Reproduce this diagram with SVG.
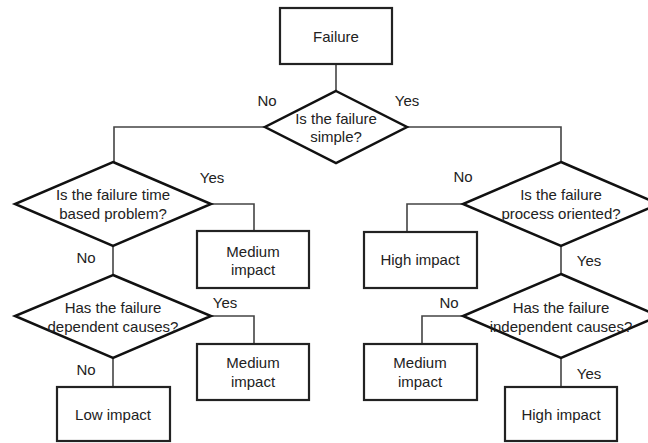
<svg xmlns="http://www.w3.org/2000/svg" width="648" height="443" viewBox="0 0 648 443">
<style>
.box{fill:#fff;stroke:#222;stroke-width:2.2}
.dia{fill:#fff;stroke:#111;stroke-width:2.5}
.con{fill:none;stroke:#444;stroke-width:1.6}
text{font-family:"Liberation Sans",Arial,sans-serif;font-size:15px;fill:#222;text-anchor:middle}
</style>
<rect width="648" height="443" fill="#fff"/>
<g id="connectors">
<path class="con" d="M336,64V91"/>
<path class="con" d="M267,127H114V162"/>
<path class="con" d="M407,127H561V162"/>
<path class="con" d="M211,204H254V231"/>
<path class="con" d="M113,246V275"/>
<path class="con" d="M211,316H254V344"/>
<path class="con" d="M113,358V387"/>
<path class="con" d="M463,204H407V232"/>
<path class="con" d="M561,246V274"/>
<path class="con" d="M463,316H422V344"/>
<path class="con" d="M561,358V387"/>
</g>
<g id="labels">
<text x="267" y="106">No</text>
<text x="407" y="106">Yes</text>
<text x="212" y="183">Yes</text>
<text x="86" y="263">No</text>
<text x="225" y="308">Yes</text>
<text x="86" y="375">No</text>
<text x="463" y="182">No</text>
<text x="589" y="266">Yes</text>
<text x="449" y="308">No</text>
<text x="589" y="379">Yes</text>
</g>
<g id="failure">
<rect class="box" x="280" y="8" width="112" height="56"/>
<text x="336" y="42">Failure</text>
</g>
<g id="d-simple">
<polygon class="dia" points="336,91 407,127 336,163 265,127"/>
<text x="336" y="124">Is the failure</text>
<text x="336" y="142">simple?</text>
</g>
<g id="d-time">
<polygon class="dia" points="113,162 211,204 113,246 15,204"/>
<text x="113" y="200">Is the failure time</text>
<text x="113" y="219">based problem?</text>
</g>
<g id="medium1">
<rect class="box" x="197" y="231" width="112" height="57"/>
<text x="253" y="257">Medium</text>
<text x="253" y="275">impact</text>
</g>
<g id="d-dependent">
<polygon class="dia" points="113,275 211,316 113,358 15,316"/>
<text x="113" y="313">Has the failure</text>
<text x="113" y="332">dependent causes?</text>
</g>
<g id="medium2">
<rect class="box" x="197" y="344" width="112" height="56"/>
<text x="253" y="368">Medium</text>
<text x="253" y="387">impact</text>
</g>
<g id="low">
<rect class="box" x="57" y="387" width="113" height="54"/>
<text x="113" y="420">Low impact</text>
</g>
<g id="d-process">
<polygon class="dia" points="561,162 659,204 561,246 463,204"/>
<text x="561" y="200">Is the failure</text>
<text x="561" y="219">process oriented?</text>
</g>
<g id="high1">
<rect class="box" x="364" y="232" width="113" height="56"/>
<text x="420" y="265">High impact</text>
</g>
<g id="d-independent">
<polygon class="dia" points="561,274 659,316 561,358 463,316"/>
<text x="561" y="313">Has the failure</text>
<text x="561" y="332">independent causes?</text>
</g>
<g id="medium3">
<rect class="box" x="364" y="344" width="113" height="56"/>
<text x="420" y="368">Medium</text>
<text x="420" y="387">impact</text>
</g>
<g id="high2">
<rect class="box" x="505" y="387" width="112" height="54"/>
<text x="561" y="420">High impact</text>
</g>
</svg>
